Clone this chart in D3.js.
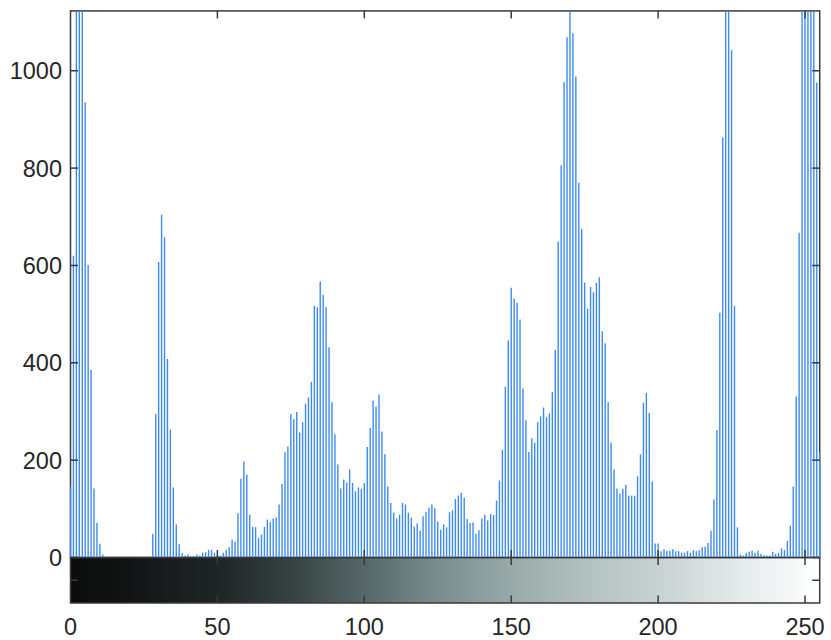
<!DOCTYPE html>
<html>
<head>
<meta charset="utf-8">
<script src="https://cdn.jsdelivr.net/npm/d3@7"></script>
<style>
body{margin:0;background:#fff}
text{font-family:"Liberation Sans",Arial,sans-serif;fill:#262626}
</style>
</head>
<body>
<svg id="chart" width="831" height="640"></svg>
<script>
// pixel counts for gray levels 0..255 (tall ones run past the top)
var counts = [
  145, 620, 1450, 1700, 1550, 935, 601, 385, 142, 71, 28, 6,
  0, 0, 0, 0, 0, 0, 0, 0, 0, 0, 0, 0, 0, 0, 0, 0,
  49, 295, 607, 704, 658, 408, 263, 144, 68, 27, 9, 4,
  6, 2, 3, 6, 4, 10, 11, 16, 16, 10, 5, 4,
  10, 16, 21, 37, 33, 91, 162, 197, 170, 88, 63, 62,
  40, 47, 63, 78, 73, 80, 82, 109, 151, 216, 228, 295,
  284, 299, 257, 278, 316, 329, 361, 517, 514, 567, 540, 514,
  432, 319, 253, 191, 142, 160, 154, 181, 153, 136, 144, 141,
  153, 227, 266, 322, 310, 335, 259, 212, 146, 112, 92, 80,
  88, 112, 109, 92, 82, 63, 70, 55, 85, 94, 102, 109,
  101, 74, 57, 68, 62, 93, 97, 120, 127, 133, 123, 79,
  71, 72, 49, 56, 80, 88, 76, 89, 87, 117, 158, 221,
  351, 446, 554, 532, 523, 489, 347, 282, 217, 245, 236, 278,
  290, 308, 288, 296, 340, 427, 649, 806, 977, 1069, 1160, 1077,
  988, 770, 675, 565, 511, 556, 545, 564, 576, 465, 440, 319,
  236, 181, 142, 131, 141, 149, 127, 127, 127, 167, 212, 318,
  338, 297, 156, 29, 29, 13, 17, 14, 14, 17, 13, 13,
  10, 10, 13, 10, 15, 13, 15, 21, 22, 30, 55, 119,
  262, 503, 863, 1400, 1380, 1042, 517, 62, 6, 4, 9, 12,
  14, 10, 14, 7, 4, 4, 4, 12, 7, 9, 19, 16,
  34, 66, 146, 331, 667, 1250, 1600, 1800, 1500, 1300, 976, 217
];
var yTicks = [0, 200, 400, 600, 800, 1000];
var xTicks = [0, 50, 100, 150, 200, 250];
var yMax = 1123;
// colorbar colours at gray levels
var cmapLevels = [0, 25, 50, 75, 100, 125, 150, 175, 200, 225, 255];
var cmapColors = ["#0b0b0b", "#141717", "#1f2525", "#364242", "#566767", "#7a8c8b",
                  "#97a9a8", "#b2c1c0", "#c8d2d2", "#e2e8e8", "#ffffff"];

var svg = d3.select("#chart");
var plotLeft = 70.5, plotRight = 819.7, plotTop = 10.9, plotBottom = 557.5, cbBottom = 603;
var tickLen = 7.5;
var axisColor = "#3a3a3a";

var x = d3.scaleLinear().domain([0, 255]).range([plotLeft, plotRight]);
var y = d3.scaleLinear().domain([0, yMax]).range([plotBottom, plotTop]);
var cmap = d3.scaleLinear().domain(cmapLevels).range(cmapColors);

// colorbar strip
var defs = svg.append("defs");
var grad = defs.append("linearGradient").attr("id", "cb")
    .attr("x1", "0%").attr("x2", "100%").attr("y1", "0%").attr("y2", "0%");
grad.selectAll("stop")
    .data(cmapLevels)
    .enter().append("stop")
    .attr("offset", function(d){return (d / 255 * 100) + "%"})
    .attr("stop-color", function(d){return cmap(d)});
svg.append("rect")
    .attr("x", plotLeft).attr("y", plotBottom)
    .attr("width", plotRight - plotLeft).attr("height", cbBottom - plotBottom)
    .attr("fill", "url(#cb)");

// main axes box
svg.append("rect")
    .attr("x", plotLeft).attr("y", plotTop)
    .attr("width", plotRight - plotLeft).attr("height", plotBottom - plotTop)
    .attr("fill", "none").attr("stroke", axisColor).attr("stroke-width", 1.5);
// colorbar box
svg.append("rect")
    .attr("x", plotLeft).attr("y", plotBottom)
    .attr("width", plotRight - plotLeft).attr("height", cbBottom - plotBottom)
    .attr("fill", "none").attr("stroke", axisColor).attr("stroke-width", 1.5);

// stems
defs.append("clipPath").attr("id", "plotclip")
    .append("rect").attr("x", plotLeft - 2).attr("y", plotTop + 1)
    .attr("width", plotRight - plotLeft + 4).attr("height", plotBottom - plotTop - 1.5);
svg.append("g").attr("clip-path", "url(#plotclip)")
    .selectAll("line")
    .data(counts)
    .enter().append("line")
    .attr("x1", function(d, i){return x(i)})
    .attr("x2", function(d, i){return x(i)})
    .attr("y1", y(0))
    .attr("y2", function(d){return y(Math.min(d, yMax + 20))})
    .attr("stroke", "#3d8bf0")
    .attr("stroke-width", 1.4);

// y ticks, left and right, inward
var yt = svg.append("g");
yt.selectAll("line.l").data(yTicks).enter().append("line")
    .attr("x1", plotLeft).attr("x2", plotLeft + tickLen)
    .attr("y1", function(d){return y(d)}).attr("y2", function(d){return y(d)})
    .attr("stroke", axisColor).attr("stroke-width", 1.5);
yt.selectAll("line.r").data(yTicks).enter().append("line")
    .attr("x1", plotRight).attr("x2", plotRight - tickLen)
    .attr("y1", function(d){return y(d)}).attr("y2", function(d){return y(d)})
    .attr("stroke", axisColor).attr("stroke-width", 1.5);
yt.selectAll("text").data(yTicks).enter().append("text")
    .attr("x", 62).attr("y", function(d){return y(d)})
    .attr("dy", "0.36em")
    .attr("text-anchor", "end")
    .style("font-size", "23.5px")
    .text(function(d){return d});

// x ticks: top of main axes, both edges of the colorbar
var xt = svg.append("g");
var tickRows = [[plotTop, 1], [plotBottom, -1], [plotBottom, 1], [cbBottom, -1]];
tickRows.forEach(function(r){
  xt.selectAll(null).data(xTicks.slice(1)).enter().append("line")
    .attr("x1", function(d){return x(d)}).attr("x2", function(d){return x(d)})
    .attr("y1", r[0]).attr("y2", r[0] + r[1] * tickLen)
    .attr("stroke", axisColor).attr("stroke-width", 1.5);
});
// colorbar middle tick
var cbMid = (plotBottom + cbBottom) / 2;
xt.append("line").attr("x1", plotLeft).attr("x2", plotLeft + tickLen)
    .attr("y1", cbMid).attr("y2", cbMid).attr("stroke", axisColor).attr("stroke-width", 1.5);
xt.append("line").attr("x1", plotRight).attr("x2", plotRight - tickLen)
    .attr("y1", cbMid).attr("y2", cbMid).attr("stroke", axisColor).attr("stroke-width", 1.5);

xt.selectAll("text").data(xTicks).enter().append("text")
    .attr("x", function(d){return x(d)}).attr("y", 627)
    .attr("dy", "0.36em")
    .attr("text-anchor", "middle")
    .style("font-size", "23.5px")
    .text(function(d){return d});
</script>
</body>
</html>
